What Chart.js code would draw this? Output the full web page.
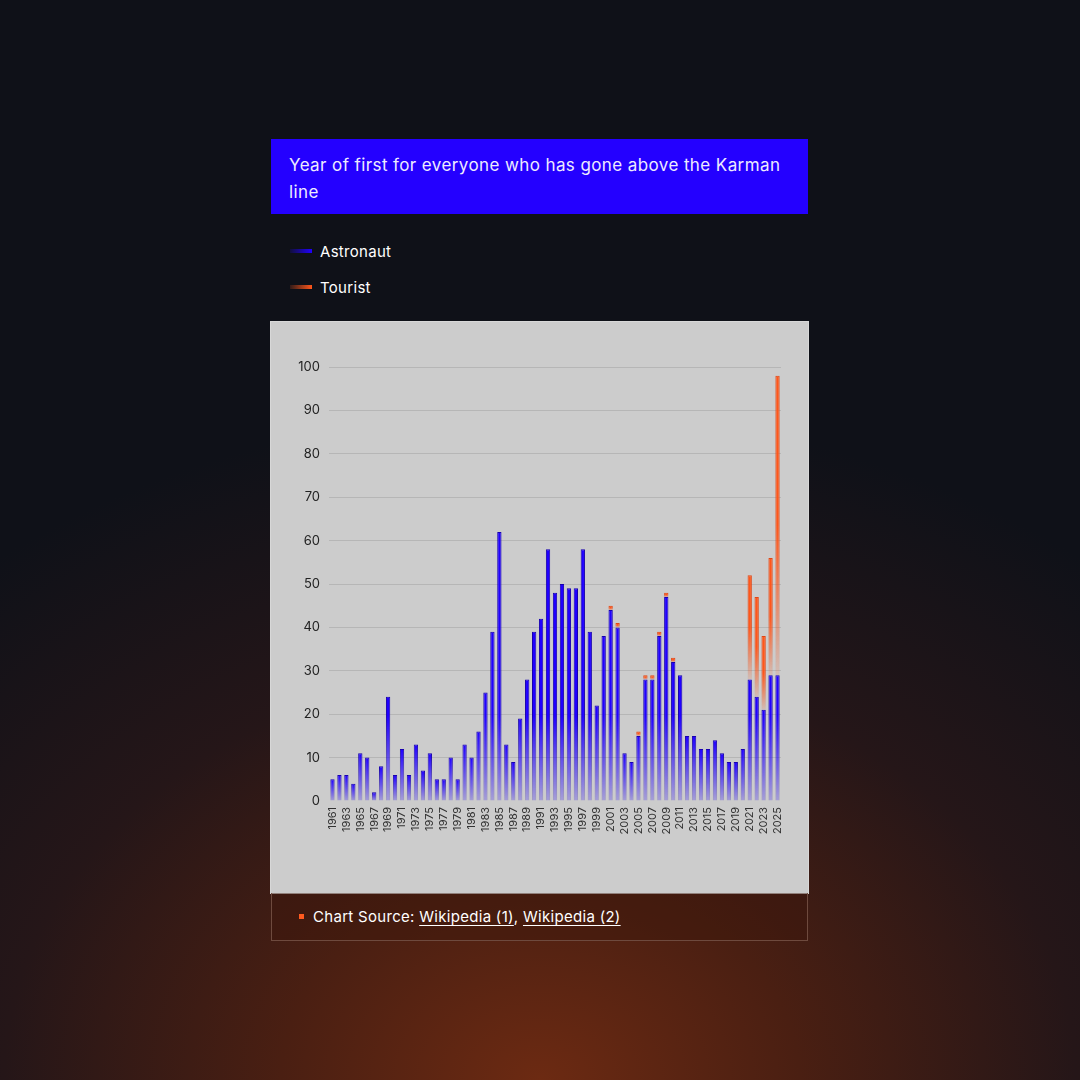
<!DOCTYPE html>
<html>
<head>
<meta charset="utf-8">
<script src="https://cdn.jsdelivr.net/npm/chart.js@4.4.1/dist/chart.umd.min.js"></script>
<style>
  html, body { margin: 0; width: 1080px; height: 1080px; overflow: hidden; }
  body {
    position: relative;
    font-family: Inter, "Noto Sans", sans-serif;
    color: #fff;
    background:
      radial-gradient(ellipse 80% 62% at 50% 100%, #6c2a12 0%, #4a1f12 30%, #251618 62%, #0f1118 100%),
      #0f1118;
  }
  #title {
    position: absolute; left: 271px; top: 139px; width: 537px; height: 75px;
    box-sizing: border-box; padding: 13px 20px 0 18px;
    background: #2400ff; color: #eeebff;
    font-size: 17px; line-height: 27px; letter-spacing: 0.4px;
  }
  #legend { position: absolute; left: 290px; top: 241px; }
  .item { display: flex; align-items: center; height: 20px; margin-bottom: 16px; font-size: 15px; letter-spacing: 0.3px; }
  .swatch { width: 22px; height: 4px; margin-right: 8px; }
  #panel {
    position: absolute; left: 271px; top: 322px; width: 537px; height: 571px;
    background: #cccccc; box-shadow: 0 0 0 1px #d8d8d8;
  }
  #footer {
    position: absolute; left: 271px; top: 893px; width: 537px; height: 48px;
    box-sizing: border-box; border: 1px solid #6e4a3e; border-top: none;
    background: rgba(60, 22, 12, 0.45);
    display: flex; align-items: center; padding-left: 27px; font-size: 15px; letter-spacing: 0.3px;
  }
  #footer .dot { width: 5px; height: 5px; background: #ff5a1f; margin-right: 9px; }
  #footer a { color: #fff; text-decoration: underline; text-underline-offset: 3px; }
</style>
</head>
<body>
<div id="title">Year of first for everyone who has gone above the Karman line</div>
<div id="legend"></div>
<div id="panel"><canvas id="chart" width="537" height="571"></canvas></div>
<div id="footer"><span class="dot"></span><span>Chart Source:&nbsp;<a>Wikipedia (1)</a>, <a>Wikipedia (2)</a></span></div>

<script>
// 1961 ~ 2025, 연도별 첫 비행 인원
const years = [];
for (let y = 1961; y <= 2025; y++) years.push(String(y));

const astronauts = [
  5, 6, 6, 4, 11, 10, 2, 8, 24, 6,
  12, 6, 13, 7, 11, 5, 5, 10, 5, 13,
  10, 16, 25, 39, 62, 13, 9, 19, 28, 39,
  42, 58, 48, 50, 49, 49, 58, 39, 22, 38,
  44, 40, 11, 9, 15, 28, 28, 38, 47, 32,
  29, 15, 15, 12, 12, 14, 11, 9, 9, 12,
  28, 24, 21, 29, 29,
];
const tourists = [
  0, 0, 0, 0, 0, 0, 0, 0, 0, 0,
  0, 0, 0, 0, 0, 0, 0, 0, 0, 0,
  0, 0, 0, 0, 0, 0, 0, 0, 0, 0,
  0, 0, 0, 0, 0, 0, 0, 0, 0, 0,
  1, 1, 0, 0, 1, 1, 1, 1, 1, 1,
  0, 0, 0, 0, 0, 0, 0, 0, 0, 0,
  24, 23, 17, 27, 69,
];
const yTicks = [0, 10, 20, 30, 40, 50, 60, 70, 80, 90, 100];

const BLUE = [32, 0, 255];
const BLUE_EDGE = [22, 0, 175];
const ORANGE = [255, 86, 26];
const ORANGE_EDGE = [225, 70, 20];

const rgba = (c, a) => `rgba(${c[0]},${c[1]},${c[2]},${a})`;

// 막대마다 아래로 갈수록 흐려지는 그라디언트
function barGradient(ctx, c) {
  const chart = ctx.chart;
  const y = chart.scales.y;
  if (!chart.chartArea || !y) return rgba(c, 1);
  const i = ctx.dataIndex;
  const isTourist = ctx.datasetIndex === 1;
  const base = isTourist ? astronauts[i] : 0;
  const top = base + (isTourist ? tourists[i] : astronauts[i]);
  const yTop = y.getPixelForValue(top);
  const yBot = y.getPixelForValue(base);
  const h = Math.max(1, yBot - yTop);
  const g = chart.ctx.createLinearGradient(0, yTop, 0, yBot);
  const solid = isTourist ? 0.5 : Math.max(0, 1 - 85 / h);
  g.addColorStop(0, rgba(c, 1));
  g.addColorStop(solid, rgba(c, 1));
  g.addColorStop(1, rgba(c, isTourist ? 0.12 : 0.22));
  return g;
}

const chart = new Chart(document.getElementById('chart'), {
  type: 'bar',
  data: {
    labels: years,
    datasets: [
      {
        label: 'Astronaut',
        data: astronauts,
        backgroundColor: (c) => barGradient(c, BLUE),
        borderColor: (c) => barGradient(c, BLUE_EDGE),
        borderWidth: 1,
        barPercentage: 0.62,
        categoryPercentage: 1,
      },
      {
        label: 'Tourist',
        data: tourists,
        backgroundColor: (c) => barGradient(c, ORANGE),
        borderColor: (c) => barGradient(c, ORANGE_EDGE),
        borderWidth: 1,
        barPercentage: 0.62,
        categoryPercentage: 1,
      },
    ],
  },
  options: {
    responsive: false,
    animation: false,
    devicePixelRatio: 1,
    layout: { padding: { top: 45, right: 27, left: 0, bottom: 0 } },
    plugins: { legend: { display: false }, tooltip: { enabled: false } },
    scales: {
      x: {
        stacked: true,
        grid: { display: false, drawTicks: false },
        border: { display: false },
        afterFit: (s) => { s.height = 92; },
        ticks: {
          autoSkip: false,
          maxRotation: 90,
          minRotation: 90,
          padding: 6,
          color: '#333',
          font: { family: 'Inter', size: 11 },
          callback: (v, i) => (i % 2 === 0 ? years[i] : ''),
        },
      },
      y: {
        stacked: true,
        min: 0,
        max: 100,
        afterFit: (s) => { s.width = 58; },
        afterBuildTicks: (s) => { s.ticks = yTicks.map((v) => ({ value: v })); },
        grid: {
          drawTicks: false,
          color: (c) => (c.tick && c.tick.value === 0 ? 'rgba(0,0,0,0)' : '#b6b6b6'),
        },
        border: { display: false },
        ticks: { padding: 9, color: '#222', font: { family: 'Inter', size: 13 } },
      },
    },
  },
});

// 범례 (차트 밖, 어두운 배경 위)
const legendColors = [BLUE, ORANGE];
document.getElementById('legend').innerHTML = chart.data.datasets
  .map((d, i) => {
    const c = legendColors[i];
    return `<div class="item"><span class="swatch" style="background:linear-gradient(90deg, ${rgba(c, 0.15)}, ${rgba(c, 1)})"></span>${d.label}</div>`;
  })
  .join('');
</script>
</body>
</html>
